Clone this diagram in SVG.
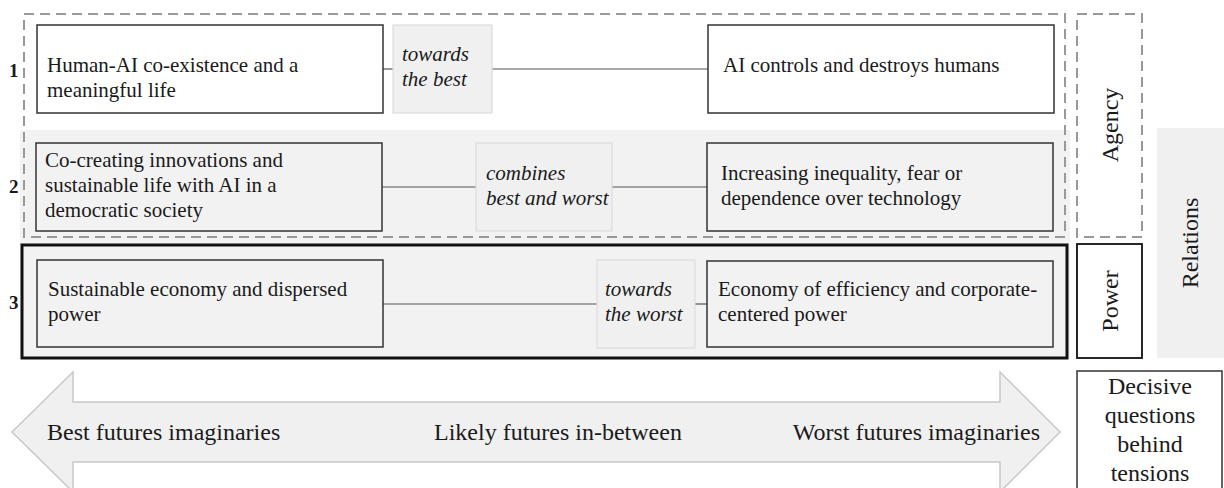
<svg xmlns="http://www.w3.org/2000/svg" width="1224" height="488" viewBox="0 0 1224 488" font-family="'Liberation Serif', 'Times New Roman', 'DejaVu Serif', serif">
<style>
text{font-family:"Liberation Serif","Times New Roman","DejaVu Serif",serif;fill:#1a1a1a}
.t{font-size:21px}
.i{font-size:21px;font-style:italic}
.n{font-size:19px;font-weight:bold}
.v{font-size:24px}
.box{stroke:#333;stroke-width:1.5}
.w{fill:#fff}
.g{fill:#f2f2f2}
.lab{fill:#f0f0f0;stroke:#dcdcdc;stroke-width:1.2}
.dash{fill:none;stroke:#999;stroke-width:2;stroke-dasharray:10 6}
.con{stroke:#555;stroke-width:1.2;fill:none}
</style>
<rect width="1224" height="488" fill="#fff"/>
<g id="bands">
<rect x="20" y="130" width="1050" height="228" fill="#f2f2f2"/>
<rect x="22" y="245" width="1045" height="113" fill="#f2f2f2" stroke="#111" stroke-width="3"/>
<rect x="24" y="14" width="1041" height="223" class="dash"/>
</g>
<g id="arrow">
<polygon points="12,432 73,372 73,402 1000,402 1000,372 1060,432 1000,492 1000,462 73,462 73,492" fill="#f0f0f0" stroke="#c8c8c8" stroke-width="1.5"/>
<text class="v" x="47" y="440">Best futures imaginaries</text>
<text class="v" x="434" y="440">Likely futures in-between</text>
<text class="v" x="1040" y="440" text-anchor="end">Worst futures imaginaries</text>
</g>
<g id="numbers">
<text class="n" x="9" y="77">1</text>
<text class="n" x="9" y="193">2</text>
<text class="n" x="9" y="309">3</text>
</g>
<g id="connectors">
<line class="con" x1="383" y1="69" x2="393" y2="69"/>
<line class="con" x1="492" y1="69" x2="708" y2="69"/>
<line class="con" x1="382" y1="187" x2="476" y2="187"/>
<line class="con" x1="612" y1="187" x2="707" y2="187"/>
<line class="con" x1="383" y1="304" x2="597" y2="304"/>
<line class="con" x1="695" y1="304" x2="707" y2="304"/>
</g>
<g id="best1">
<rect x="37" y="25" width="346" height="88" class="box w"/>
<text class="t" x="47" y="72">Human-AI co-existence and a</text>
<text class="t" x="47" y="97">meaningful life</text>
</g>
<g id="mid1">
<rect x="393" y="25" width="99" height="88" class="lab"/>
<text class="i" x="402" y="61">towards</text>
<text class="i" x="402" y="86">the best</text>
</g>
<g id="worst1">
<rect x="708" y="25" width="346" height="88" class="box w"/>
<text class="t" x="723" y="72">AI controls and destroys humans</text>
</g>
<g id="best2">
<rect x="36" y="143" width="346" height="88" class="box g"/>
<text class="t" x="45" y="167">Co-creating innovations and</text>
<text class="t" x="45" y="192">sustainable life with AI in a</text>
<text class="t" x="45" y="217">democratic society</text>
</g>
<g id="mid2">
<rect x="476" y="143" width="136" height="88" class="lab"/>
<text class="i" x="486" y="180">combines</text>
<text class="i" x="486" y="205">best and worst</text>
</g>
<g id="worst2">
<rect x="707" y="143" width="346" height="88" class="box g"/>
<text class="t" x="721" y="180">Increasing inequality, fear or</text>
<text class="t" x="721" y="205">dependence over technology</text>
</g>
<g id="best3">
<rect x="37" y="260" width="346" height="87" class="box g"/>
<text class="t" x="48" y="296">Sustainable economy and dispersed</text>
<text class="t" x="48" y="321">power</text>
</g>
<g id="mid3">
<rect x="597" y="260" width="98" height="88" class="lab"/>
<text class="i" x="605" y="296">towards</text>
<text class="i" x="605" y="321">the worst</text>
</g>
<g id="worst3">
<rect x="707" y="261" width="346" height="86" class="box g"/>
<text class="t" x="718" y="296">Economy of efficiency and corporate-</text>
<text class="t" x="718" y="321">centered power</text>
</g>
<g id="agency">
<rect x="1077" y="14" width="65" height="223" class="dash"/>
<text class="v" transform="translate(1118,125) rotate(-90)" text-anchor="middle">Agency</text>
</g>
<g id="power">
<rect x="1077" y="244" width="65" height="114" fill="#fff" stroke="#111" stroke-width="1.8"/>
<text class="v" transform="translate(1118,301) rotate(-90)" text-anchor="middle">Power</text>
</g>
<g id="relations">
<rect x="1157" y="128" width="67" height="230" fill="#f0f0f0"/>
<text class="v" transform="translate(1198,243) rotate(-90)" text-anchor="middle">Relations</text>
</g>
<g id="decisive">
<rect x="1077" y="371" width="145" height="125" fill="#fff" stroke="#333" stroke-width="1.5"/>
<text class="v" x="1150" y="394" text-anchor="middle">Decisive</text>
<text class="v" x="1150" y="423" text-anchor="middle">questions</text>
<text class="v" x="1150" y="452" text-anchor="middle">behind</text>
<text class="v" x="1150" y="481" text-anchor="middle">tensions</text>
</g>
</svg>
